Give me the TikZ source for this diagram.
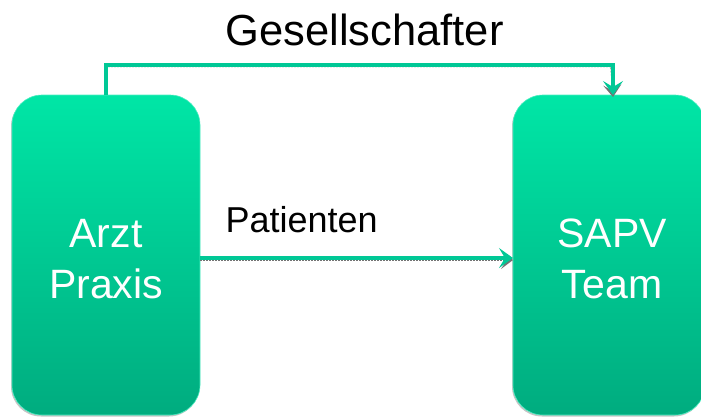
\documentclass[tikz,border=0pt]{standalone}
\usepackage{fontspec}
\setmainfont{Liberation Sans}
\usetikzlibrary{arrows.meta,calc}
\definecolor{boxtop}{HTML}{00E6A6}
\definecolor{boxbot}{HTML}{00AC7F}
\definecolor{linkgreen}{HTML}{00C896}
\tikzset{
  box/.style={rounded corners=30pt, top color=boxtop, bottom color=boxbot,
    draw=boxtop!70!white, line width=0.6pt,
    preaction={fill=black!45, opacity=0.5, transform canvas={xshift=-1pt,yshift=-1.5pt}}},
  boxtext/.style={text=white, font=\fontsize{41}{51}\selectfont, align=center, anchor=base},
  link/.style={draw=linkgreen, line width=4pt,
    -{Stealth[length=14pt,width=20pt,inset=6pt]}},
  linkshadow/.style={draw=black!55, line width=1.3pt, dash pattern=on 2pt off 1pt,
    -{Stealth[length=12pt,width=18pt,inset=6pt]}},
  lbl/.style={text=black, anchor=base west}
}
\begin{document}
\begin{tikzpicture}[x=1pt,y=-1pt]
\useasboundingbox (0,0) rectangle (701,416);
\path[box] (12,95) rectangle (200,415);
\coordinate (arztN) at (106,95);
\coordinate (arztE) at (200,258);
\path[box] (513,95) rectangle (705,415);
\coordinate (sapvN) at (613,95);
\coordinate (sapvW) at (513,258);
\coordinate (c1) at (106,64.5);
\coordinate (c2) at (613,64.5);
\node[boxtext] (arzt) at (106,298) {Arzt\\Praxis};
\node[boxtext] (sapv) at (612,298) {SAPV\\Team};
\node[lbl, font=\fontsize{43.5}{50}\selectfont] (ges) at (222,45) {Gesellschafter};
\node[lbl, font=\fontsize{36}{43}\selectfont] (pat) at (222,232) {Patienten};
\begin{scope}[transform canvas={yshift=-2pt}]
\draw[linkshadow] ($(c1)+(2,0)$) -- ($(c2)+(-2,0)$) -- (sapvN);
\draw[linkshadow] (arztE) -- (sapvW);
\end{scope}
\draw[link] (arztN) -- (c1) -- (c2) -- (sapvN);
\draw[link] (arztE) -- (sapvW);
\end{tikzpicture}
\end{document}
